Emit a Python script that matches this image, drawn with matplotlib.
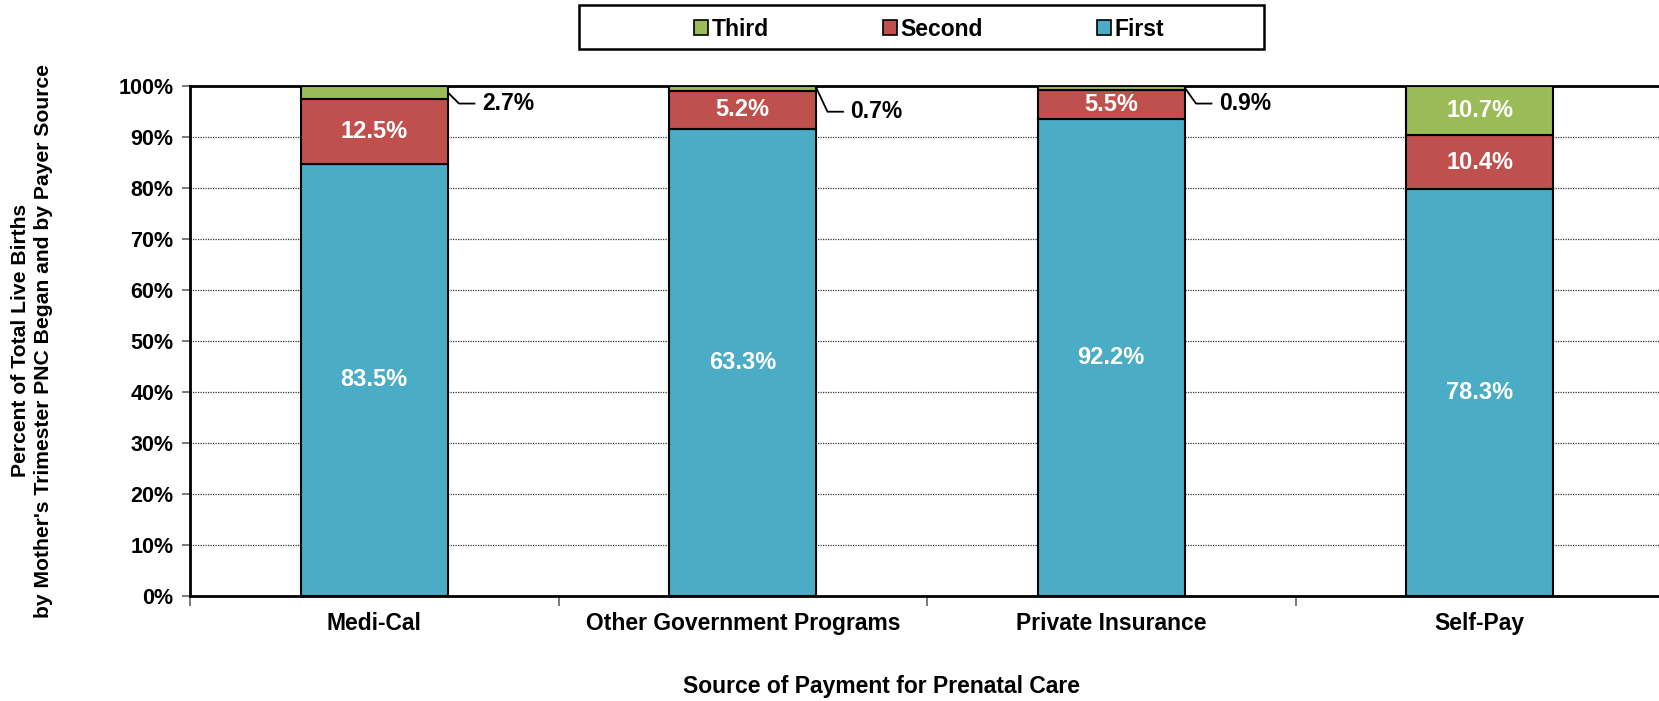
"""100% stacked bars: trimester prenatal care began, by payer source"""

import matplotlib
matplotlib.use('Agg')
import matplotlib.pyplot as plt
from matplotlib.patches import Rectangle
import numpy as np

plt.rcParams['font.family'] = ['Liberation Sans', 'DejaVu Sans']
plt.rcParams['font.weight'] = 'bold'

# Data: bar heights as drawn (share of 100%), and the printed labels
payers = ['Medi-Cal', 'Other Government Programs', 'Private Insurance', 'Self-Pay']
first = [84.6, 91.5, 93.5, 79.7]
second = [12.7, 7.5, 5.6, 10.6]
third = [2.7, 1.0, 0.9, 9.7]
first_labels = ['83.5%', '63.3%', '92.2%', '78.3%']
second_labels = ['12.5%', '5.2%', '5.5%', '10.4%']
third_labels = ['2.7%', '0.7%', '0.9%', '10.7%']

c_first = '#4BACC6'
c_second = '#C0504D'
c_third = '#9BBB59'

fig = plt.figure(figsize=(16.59, 7.01), dpi=100)
ax = fig.add_axes([190 / 1659, 1 - 595.7 / 701, 1474 / 1659, 510 / 701])

x = np.arange(len(payers))
w = 0.4
first = np.array(first)
second = np.array(second)
third = np.array(third)

ax.bar(x, first, w, color=c_first, edgecolor='black', linewidth=1.5, zorder=3)
ax.bar(x, second, w, bottom=first, color=c_second, edgecolor='black', linewidth=1.5, zorder=3)
ax.bar(x, third, w, bottom=first + second, color=c_third, edgecolor='black', linewidth=1.5, zorder=3)

lbl = dict(color='white', fontsize=17, fontweight='bold', ha='center', va='center', zorder=4)
for i in range(len(payers)):
    ax.text(x[i], first[i] / 2, first_labels[i], **lbl)
    ax.text(x[i], first[i] + second[i] / 2, second_labels[i], **lbl)

# small third-trimester slices get a callout to the right
callout_y = [96.5, 94.9, 96.5, None]
for i in range(len(payers)):
    mid = first[i] + second[i] + third[i] / 2
    if callout_y[i] is None:
        ax.text(x[i], mid, third_labels[i], **lbl)
        continue
    edge = x[i] + w / 2
    yy = callout_y[i]
    ax.plot([edge, edge + 0.03, edge + 0.072], [mid, yy, yy], color='black', lw=1.3,
            zorder=4, clip_on=False)
    ax.text(edge + 0.092, yy, third_labels[i], color='black', fontsize=16.5,
            fontweight='bold', ha='left', va='center', zorder=4)

ax.set_xlim(-0.5, len(payers) - 0.5)
ax.set_ylim(0, 100)
ax.set_yticks(np.arange(0, 101, 10))
ax.set_yticklabels([f'{v}%' for v in range(0, 101, 10)], fontsize=15.5, fontweight='bold')
ax.set_xticks(x)
ax.set_xticklabels(payers, fontsize=16.5, fontweight='bold')
ax.tick_params(axis='x', which='major', length=0, pad=12)
ax.set_xticks(np.arange(-0.5, len(payers), 1), minor=True)
ax.tick_params(axis='x', which='minor', length=7, width=1.3, color='#707070', direction='out')
ax.tick_params(axis='y', length=6, width=1.3, color='#707070', pad=6)

ax.yaxis.grid(True, linestyle=(0, (1, 1)), color='#333333', linewidth=0.9, zorder=0)
ax.set_axisbelow(True)
for s in ['left', 'bottom', 'top']:
    ax.spines[s].set_linewidth(2)
    ax.spines[s].set_color('black')
ax.spines['right'].set_visible(False)

fig.text(882 / 1659, 1 - 686 / 701, 'Source of Payment for Prenatal Care', fontsize=16.5,
         fontweight='bold', ha='center', va='center')
fig.text(32 / 1659, 0.514, "Percent of Total Live Births\nby Mother's Trimester PNC Began and by Payer Source",
         rotation=90, ha='center', va='center', multialignment='center', fontsize=15.2,
         fontweight='bold', linespacing=1.3)

# legend box at top
fig.patches.append(Rectangle((579 / 1659, 1 - 49 / 701), 685 / 1659, 44 / 701, transform=fig.transFigure,
                             facecolor='white', edgecolor='black', linewidth=1.8))
handles = [Rectangle((0, 0), 1, 1, facecolor=c, edgecolor='black', linewidth=1.2)
           for c in [c_third, c_second, c_first]]
fig.legend(handles, ['Third', 'Second', 'First'], loc='center', ncol=3,
           bbox_to_anchor=(929 / 1659, 1 - 29 / 701), frameon=False,
           prop={'size': 16.5, 'weight': 'bold'}, handlelength=0.6, handleheight=0.6,
           handletextpad=0.15, columnspacing=5.0)

fig.savefig('out.png', dpi=100)
